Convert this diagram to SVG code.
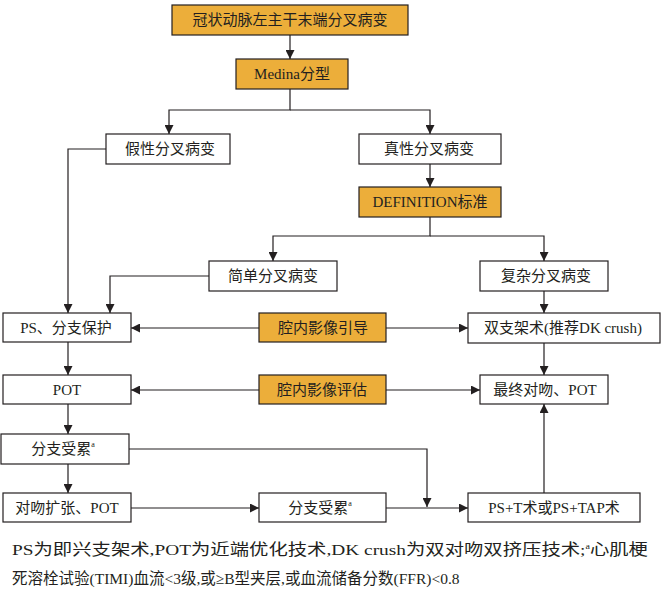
<svg xmlns="http://www.w3.org/2000/svg" width="661" height="592" viewBox="0 0 661 592">
<defs>
<marker id="a" viewBox="0 0 10 10" refX="10" refY="5" markerWidth="9" markerHeight="9" markerUnits="userSpaceOnUse" orient="auto"><path d="M0,0 L10,5 L0,10 z" fill="#231f20"/></marker>
<style>
rect{stroke:#231f20;stroke-width:1.2;fill:#fff}
.o{fill:#ecae3a}
text{font-family:"Liberation Serif","Noto Sans CJK SC",serif;font-size:15px;fill:#231f20;text-anchor:middle;dominant-baseline:central}
#c path{fill:none;stroke:#231f20;stroke-width:1.2}
.f{font-size:15.5px;text-anchor:start;dominant-baseline:auto}
</style>
</defs>
<g id="c">
<path d="M290,35 V59" marker-end="url(#a)"/>
<path d="M290,89 V110 H169 V134" marker-end="url(#a)"/>
<path d="M290,110 H430 V134" marker-end="url(#a)"/>
<path d="M430,164 V187" marker-end="url(#a)"/>
<path d="M430,217 V236 H273 V261" marker-end="url(#a)"/>
<path d="M430,236 H544 V261" marker-end="url(#a)"/>
<path d="M106,149 H68 V313" marker-end="url(#a)"/>
<path d="M209,276 H110 V313" marker-end="url(#a)"/>
<path d="M544,291 V313" marker-end="url(#a)"/>
<path d="M259,328 H131" marker-end="url(#a)"/>
<path d="M386,328 H468" marker-end="url(#a)"/>
<path d="M259,390 H131" marker-end="url(#a)"/>
<path d="M386,390 H480" marker-end="url(#a)"/>
<path d="M544,343 V375" marker-end="url(#a)"/>
<path d="M68,342 V375" marker-end="url(#a)"/>
<path d="M68,404 V434" marker-end="url(#a)"/>
<path d="M68,464 V493" marker-end="url(#a)"/>
<path d="M129,449 H427 V507" marker-end="url(#a)"/>
<path d="M131,508 H259" marker-end="url(#a)"/>
<path d="M386,508 H468" marker-end="url(#a)"/>
<path d="M544,493 V404" marker-end="url(#a)"/>
</g>
<g id="n1"><rect class="o" x="172" y="5" width="236" height="30"/><text x="290" y="20">冠状动脉左主干末端分叉病变</text></g>
<g id="n2"><rect class="o" x="236" y="59" width="112" height="30"/><text x="292" y="74">Medina分型</text></g>
<g id="n3"><rect x="106" y="134" width="124" height="30"/><text x="170" y="149">假性分叉病变</text></g>
<g id="n4"><rect x="359" y="134" width="142" height="30"/><text x="429" y="149">真性分叉病变</text></g>
<g id="n5"><rect class="o" x="359" y="187" width="142" height="30"/><text x="430" y="202">DEFINITION标准</text></g>
<g id="n6"><rect x="209" y="261" width="128" height="30"/><text x="273" y="276">简单分叉病变</text></g>
<g id="n7"><rect x="480" y="261" width="128" height="30"/><text x="546" y="276">复杂分叉病变</text></g>
<g id="n8"><rect x="3" y="313" width="128" height="29"/><text x="66" y="328">PS、分支保护</text></g>
<g id="n9"><rect class="o" x="259" y="313" width="127" height="29"/><text x="323" y="328">腔内影像引导</text></g>
<g id="n10"><rect x="468" y="313" width="192" height="30"/><text x="563" y="328">双支架术(推荐DK crush)</text></g>
<g id="n11"><rect x="3" y="375" width="128" height="29"/><text x="67" y="390">POT</text></g>
<g id="n12"><rect class="o" x="259" y="375" width="127" height="29"/><text x="322" y="390">腔内影像评估</text></g>
<g id="n13"><rect x="480" y="375" width="128" height="29"/><text x="545" y="390">最终对吻、POT</text></g>
<g id="n14"><rect x="1" y="434" width="128" height="30"/><text x="63" y="449">分支受累<tspan font-size="8" dy="-5">a</tspan></text></g>
<g id="n15"><rect x="3" y="493" width="128" height="29"/><text x="67" y="508">对吻扩张、POT</text></g>
<g id="n16"><rect x="259" y="493" width="127" height="29"/><text x="320" y="508">分支受累<tspan font-size="8" dy="-5">a</tspan></text></g>
<g id="n17"><rect x="468" y="493" width="172" height="29"/><text x="554" y="508">PS+T术或PS+TAP术</text></g>
<text class="f" x="12" y="555" textLength="636" lengthAdjust="spacingAndGlyphs">PS为即兴支架术,POT为近端优化技术,DK crush为双对吻双挤压技术;<tspan font-size="8" dy="-6">a</tspan><tspan dy="6">心肌梗</tspan></text>
<text class="f" x="12" y="584">死溶栓试验(TIMI)血流&lt;3级,或≥B型夹层,或血流储备分数(FFR)&lt;0.8</text>
</svg>
